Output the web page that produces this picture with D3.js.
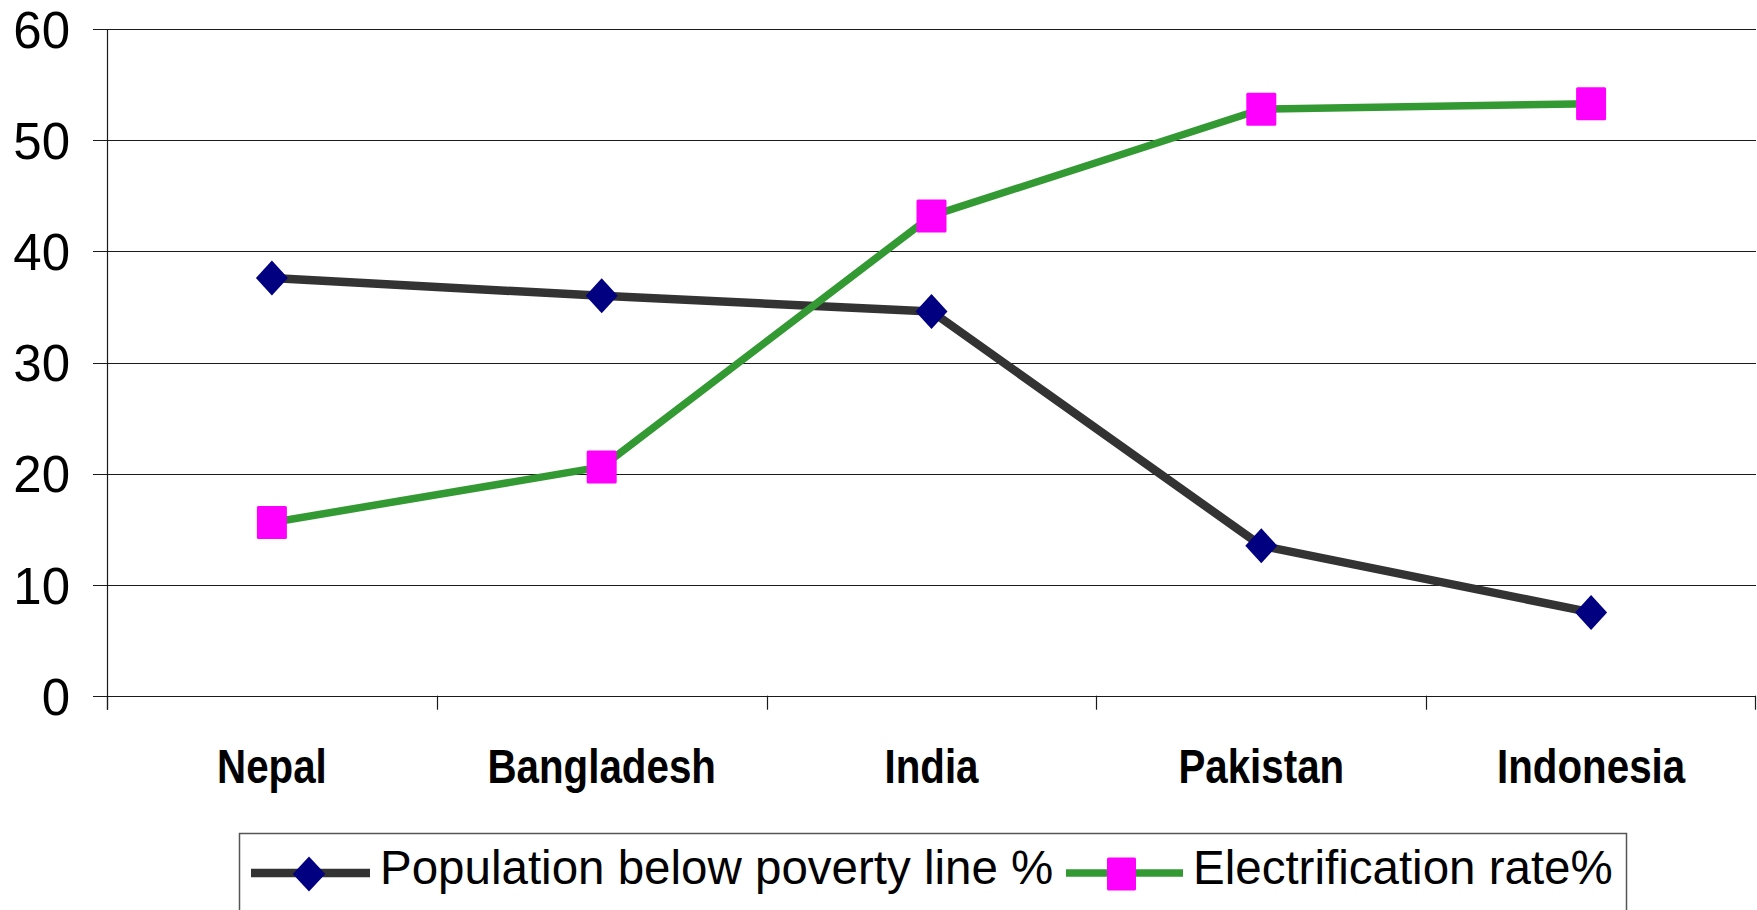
<!DOCTYPE html>
<html>
<head>
<meta charset="utf-8">
<script src="https://cdn.jsdelivr.net/npm/d3@7/dist/d3.min.js"></script>
<style>
html,body{margin:0;padding:0;background:#fff;overflow:hidden;}
svg{display:block;font-family:"Liberation Sans",Arial,sans-serif;}
</style>
</head>
<body>
<svg id="chart" width="1757" height="910"></svg>
<script>
const categories = ["Nepal", "Bangladesh", "India", "Pakistan", "Indonesia"];
const povertyValues = [37.6, 36.0, 34.6, 13.5, 7.5];
const electrificationValues = [15.6, 20.6, 43.2, 52.8, 53.3];
const yTickValues = [0, 10, 20, 30, 40, 50, 60];
const seriesNames = ["Population below poverty line %", "Electrification rate%"];

(function () {
const svg = d3.select("#chart");
const pLeft = 107, pRight = 1756, pTop = 29.3, pBottom = 695.7;

const x = d3.scaleBand().domain(categories).range([pLeft, pRight]).padding(0);
const y = d3.scaleLinear().domain([0, 60]).range([pBottom, pTop]);

// gridlines
svg.append("g").selectAll("line").data(yTickValues).join("line")
  .attr("x1", pLeft - 14).attr("x2", pRight)
  .attr("y1", d => Math.round(y(d)) + 0.5).attr("y2", d => Math.round(y(d)) + 0.5)
  .attr("stroke", "#1a1a1a").attr("stroke-width", 1.2);

// y axis
const yAxis = svg.append("g").attr("transform", `translate(${pLeft},0)`)
  .call(d3.axisLeft(y).tickValues(yTickValues).tickSize(0).tickPadding(37).tickFormat(d3.format("d")));
yAxis.select(".domain").remove();
yAxis.selectAll("text").attr("font-size", 51).attr("font-family", "Liberation Sans, Arial, sans-serif")
  .attr("fill", "#000").attr("dy", "0.36em");
svg.append("line").attr("x1", pLeft + 0.5).attr("x2", pLeft + 0.5)
  .attr("y1", pTop).attr("y2", pBottom + 14).attr("stroke", "#1a1a1a").attr("stroke-width", 1.2);

// x axis ticks at band boundaries
const boundaries = categories.map(c => x(c)).concat([pRight - 1]);
svg.append("g").selectAll("line").data(boundaries).join("line")
  .attr("x1", d => Math.round(d) + 0.5).attr("x2", d => Math.round(d) + 0.5)
  .attr("y1", pBottom).attr("y2", pBottom + 14)
  .attr("stroke", "#1a1a1a").attr("stroke-width", 1.2);

// x labels
const xAxis = svg.append("g").attr("transform", `translate(0,${pBottom})`)
  .call(d3.axisBottom(x).tickSize(0).tickPadding(0));
xAxis.select(".domain").remove();
xAxis.selectAll(".tick text")
  .attr("font-size", 48).attr("font-weight", "bold").attr("fill", "#000")
  .attr("font-family", "Liberation Sans, Arial, sans-serif")
  .attr("y", 0).attr("dy", 0)
  .attr("transform", "translate(0,87) scale(0.84,1)");

// lines
const cx = d => x(d) + x.bandwidth() / 2;
const lineGen = vals => d3.line().x((d, i) => cx(categories[i])).y(d => y(d))(vals);

svg.append("path").attr("d", lineGen(povertyValues))
  .attr("fill", "none").attr("stroke", "#333333").attr("stroke-width", 8.5).attr("stroke-linejoin", "round");
svg.append("path").attr("d", lineGen(electrificationValues))
  .attr("fill", "none").attr("stroke", "#339933").attr("stroke-width", 7.5).attr("stroke-linejoin", "round");

function diamond(sel, w, h) {
  sel.attr("d", `M0,${-h/2}L${w/2},0L0,${h/2}L${-w/2},0Z`).attr("fill", "#000080");
}

svg.append("g").selectAll("path").data(povertyValues).join("path")
  .attr("transform", (d, i) => `translate(${cx(categories[i])},${y(d)})`)
  .call(diamond, 32, 35);

svg.append("g").selectAll("rect").data(electrificationValues).join("rect")
  .attr("x", (d, i) => cx(categories[i]) - 15).attr("y", d => y(d) - 16.5)
  .attr("width", 30).attr("height", 33).attr("rx", 1.5).attr("fill", "#ff00ff");

// legend
const lg = svg.append("g");
lg.append("rect").attr("x", 239.5).attr("y", 833.5).attr("width", 1387).attr("height", 120)
  .attr("fill", "#fff").attr("stroke", "#555").attr("stroke-width", 1.5);

lg.append("line").attr("x1", 251).attr("x2", 370).attr("y1", 873).attr("y2", 873)
  .attr("stroke", "#333333").attr("stroke-width", 8.5);
lg.append("path").attr("transform", "translate(309,874)").call(diamond, 32.5, 35);
lg.append("text").attr("x", 380).attr("y", 884).attr("font-size", 47.5).attr("fill", "#000")
  .text(seriesNames[0]);

lg.append("line").attr("x1", 1066).attr("x2", 1183).attr("y1", 873).attr("y2", 873)
  .attr("stroke", "#339933").attr("stroke-width", 7.5);
lg.append("rect").attr("x", 1107).attr("y", 857.5).attr("width", 29).attr("height", 33).attr("rx", 1.5)
  .attr("fill", "#ff00ff");
lg.append("text").attr("x", 1193).attr("y", 884).attr("font-size", 47.5).attr("fill", "#000")
  .text(seriesNames[1]);
})();
</script>
</body>
</html>
